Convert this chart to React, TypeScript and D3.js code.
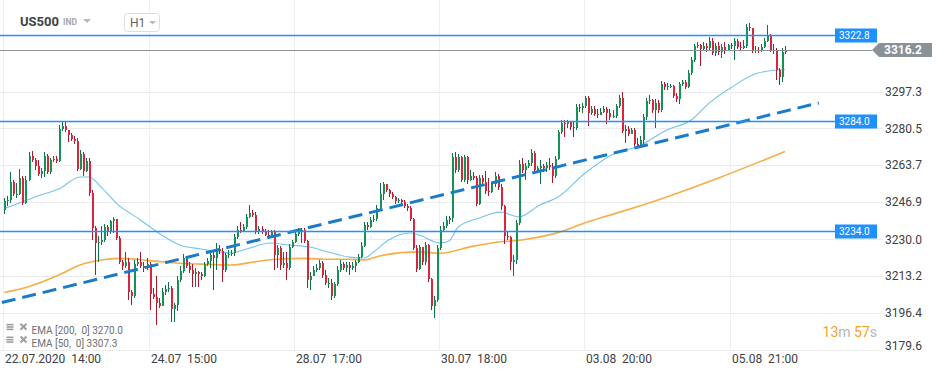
import React from "react";
import * as d3 from "d3";

const W = 945;
const H = 376;

const firstOpen = 3243.3;
const closes = [3247.5,3247.9,3256.1,3250.6,3250.6,3257.9,3246.5,3257.0,3268.0,3266.1,3263.4,3259.7,3261.1,3268.0,3260.6,3266.1,3266.6,3265.7,3280.2,3281.6,3279.8,3277.5,3275.7,3274.8,3262.0,3268.8,3261.1,3265.7,3251.1,3235.1,3228.3,3228.8,3229.7,3235.6,3233.3,3238.3,3239.2,3230.6,3219.7,3217.9,3219.7,3206.0,3204.2,3218.8,3219.7,3217.9,3216.9,3218.8,3205.1,3203.8,3201.0,3199.6,3206.0,3207.4,3207.8,3198.2,3200.1,3211.5,3215.6,3221.5,3217.9,3216.0,3214.2,3215.1,3214.2,3213.3,3218.8,3220.1,3222.8,3221.5,3225.6,3224.7,3216.0,3222.8,3223.3,3223.8,3231.0,3234.2,3233.8,3235.6,3240.2,3242.0,3241.1,3233.3,3234.7,3233.8,3232.0,3231.5,3233.8,3222.8,3226.0,3218.3,3219.2,3217.0,3226.5,3228.8,3232.4,3233.3,3234.2,3229.2,3211.5,3213.3,3216.0,3217.0,3219.2,3213.7,3210.1,3210.1,3204.2,3209.6,3216.0,3218.8,3217.0,3218.3,3217.0,3217.9,3219.7,3221.9,3226.9,3236.5,3235.6,3238.8,3239.2,3244.2,3250.6,3255.2,3252.4,3250.6,3249.3,3247.4,3247.9,3247.0,3245.2,3244.2,3239.2,3226.0,3216.5,3226.5,3219.7,3227.4,3211.9,3199.6,3202.4,3226.0,3234.2,3236.0,3238.8,3239.7,3267.5,3261.6,3267.5,3257.0,3267.5,3257.0,3258.8,3257.9,3246.1,3257.9,3256.1,3252.0,3251.5,3255.2,3258.8,3253.8,3245.2,3231.5,3231.0,3219.7,3220.6,3237.4,3264.3,3261.6,3263.4,3264.7,3269.3,3261.6,3262.5,3263.4,3262.5,3263.8,3262.9,3258.8,3266.6,3278.9,3283.0,3282.5,3283.4,3281.1,3280.7,3290.2,3289.8,3290.7,3294.3,3287.5,3289.3,3287.1,3286.6,3288.0,3289.3,3287.5,3285.7,3286.1,3290.7,3294.3,3279.3,3280.2,3278.0,3279.8,3273.4,3272.5,3275.2,3285.7,3293.0,3293.4,3288.9,3292.1,3288.9,3300.7,3299.3,3299.8,3299.8,3295.2,3293.9,3300.7,3301.6,3299.3,3305.7,3311.6,3318.0,3318.5,3316.7,3318.0,3317.1,3320.3,3314.8,3318.0,3315.3,3317.6,3315.7,3318.5,3318.0,3320.3,3317.6,3317.1,3318.0,3326.7,3326.2,3315.7,3316.2,3315.7,3317.6,3320.3,3323.0,3316.2,3315.7,3307.1,3303.9,3315.3,3316.2];
const highs = [3248.8,3249.7,3260.6,3257.0,3255.6,3262.0,3258.8,3258.8,3269.8,3270.2,3267.0,3266.1,3262.5,3269.8,3268.8,3267.0,3268.0,3268.0,3282.1,3283.9,3283.9,3278.9,3278.4,3277.0,3276.1,3270.7,3269.8,3267.0,3267.0,3252.4,3236.0,3231.5,3236.0,3237.0,3236.5,3238.8,3240.0,3238.8,3231.5,3220.6,3224.2,3221.5,3206.9,3220.6,3221.5,3224.2,3219.7,3221.5,3219.7,3207.8,3213.3,3203.3,3207.8,3209.2,3210.6,3208.7,3201.0,3213.3,3217.9,3223.3,3222.4,3219.7,3218.8,3216.9,3215.6,3215.1,3219.7,3221.5,3224.2,3224.2,3228.3,3227.4,3226.0,3223.8,3225.1,3225.1,3232.4,3236.0,3237.9,3237.0,3241.5,3245.6,3243.3,3242.4,3236.0,3236.0,3234.7,3234.2,3234.2,3234.2,3227.4,3227.0,3224.2,3224.2,3227.9,3229.7,3233.8,3235.1,3235.1,3235.1,3229.7,3215.1,3217.9,3218.8,3220.6,3220.1,3216.0,3212.4,3211.9,3210.6,3217.9,3220.6,3219.7,3219.7,3219.7,3219.7,3220.6,3223.3,3228.8,3237.9,3237.9,3240.2,3241.1,3245.6,3255.6,3256.1,3255.2,3252.9,3251.5,3249.7,3248.8,3248.4,3247.9,3246.1,3245.2,3239.7,3227.4,3227.4,3225.1,3228.8,3227.9,3212.4,3204.2,3227.4,3236.0,3237.9,3240.6,3240.6,3269.3,3269.8,3268.8,3268.0,3268.4,3268.0,3261.6,3260.6,3258.8,3259.3,3259.3,3261.1,3257.9,3256.1,3260.6,3259.7,3255.2,3245.6,3233.3,3231.5,3222.8,3238.8,3266.1,3267.0,3264.7,3266.1,3271.1,3270.2,3263.4,3266.1,3264.3,3265.2,3267.0,3264.7,3268.0,3279.8,3284.3,3284.3,3284.3,3284.0,3283.4,3291.6,3291.6,3292.1,3295.2,3295.2,3290.7,3290.7,3289.3,3289.8,3290.7,3290.2,3289.3,3288.9,3291.6,3295.7,3297.1,3282.1,3281.6,3280.7,3280.7,3276.1,3277.0,3287.1,3294.3,3295.7,3293.9,3293.9,3293.4,3302.1,3301.6,3301.2,3300.7,3300.3,3296.6,3301.6,3302.5,3302.5,3307.1,3313.0,3318.9,3319.8,3318.9,3319.8,3319.4,3322.1,3321.7,3319.4,3319.8,3318.9,3319.8,3318.9,3319.4,3321.7,3321.2,3319.8,3320.8,3328.0,3328.5,3325.3,3318.0,3317.6,3318.9,3321.7,3327.6,3323.5,3318.9,3317.1,3308.0,3317.1,3318.0];
const lows = [3241.5,3245.2,3246.5,3249.7,3248.8,3250.2,3245.6,3246.1,3256.5,3265.2,3261.6,3258.8,3257.9,3258.4,3259.7,3259.7,3265.2,3264.7,3265.2,3279.3,3278.9,3274.3,3274.8,3273.4,3261.1,3261.6,3258.8,3260.6,3249.7,3229.7,3213.7,3219.7,3227.4,3228.8,3231.5,3232.4,3232.9,3229.7,3218.8,3216.0,3216.9,3202.4,3200.1,3203.3,3217.9,3216.9,3215.1,3216.0,3197.8,3202.9,3191.0,3198.7,3200.1,3204.6,3206.0,3192.4,3192.4,3197.3,3210.6,3214.7,3216.9,3214.7,3208.3,3208.3,3208.3,3211.5,3212.8,3217.9,3216.9,3206.9,3216.0,3223.3,3210.6,3215.1,3221.5,3222.4,3222.4,3230.1,3232.9,3233.3,3234.7,3239.7,3240.2,3232.4,3232.4,3232.4,3231.5,3230.6,3231.0,3216.0,3216.9,3216.0,3216.9,3211.5,3216.0,3226.0,3228.3,3231.5,3228.3,3228.3,3207.8,3206.9,3213.7,3215.1,3216.0,3212.4,3209.2,3207.8,3202.4,3203.3,3208.7,3215.1,3216.0,3215.1,3213.7,3216.0,3215.1,3219.2,3221.5,3226.5,3234.2,3235.1,3237.9,3238.3,3243.8,3247.9,3251.5,3249.3,3248.4,3246.1,3246.5,3245.2,3244.2,3242.9,3238.3,3225.1,3215.1,3216.0,3218.3,3218.3,3210.6,3197.8,3194.2,3201.5,3225.1,3233.3,3235.1,3237.0,3237.9,3260.2,3260.6,3256.1,3256.1,3255.2,3256.5,3257.0,3245.2,3245.6,3254.7,3250.6,3249.7,3251.1,3253.8,3252.4,3243.3,3227.9,3229.7,3216.0,3213.3,3218.8,3236.5,3260.2,3257.0,3262.5,3263.4,3260.6,3260.2,3255.2,3260.6,3260.6,3261.6,3255.6,3258.0,3266.1,3278.0,3276.6,3280.7,3279.8,3276.6,3279.8,3288.0,3287.5,3289.8,3281.6,3286.6,3286.1,3285.2,3286.6,3287.5,3282.5,3284.3,3285.2,3285.2,3289.8,3278.4,3273.8,3277.1,3278.0,3272.5,3271.6,3271.6,3273.4,3284.3,3291.6,3287.5,3280.7,3287.5,3288.0,3298.0,3298.0,3298.9,3294.3,3292.5,3291.6,3299.8,3298.4,3298.9,3304.8,3310.7,3317.1,3308.9,3316.2,3315.3,3316.2,3313.9,3313.5,3313.9,3312.6,3314.4,3316.2,3316.7,3311.6,3316.7,3316.2,3316.7,3317.1,3324.8,3314.8,3314.8,3314.8,3315.3,3317.1,3319.8,3315.3,3314.4,3302.5,3300.3,3301.6,3314.4];

// EMA readings: [bar index, value]
const ema50Bars = [0,5,12,18,25,28,32,37,45,52,58,65,75,79,88,94,101,107,114,119,122,127,134,137,144,147,150,157,164,170,177,183,192,202,209,219,227,233,240,249,258];
const ema50Vals = [3244.0,3246.5,3250.2,3252.9,3258.4,3258.4,3253.8,3246.5,3238.8,3232.0,3227.4,3225.6,3223.8,3225.1,3228.3,3227.4,3226.5,3224.2,3221.9,3221.5,3224.2,3229.7,3232.9,3232.0,3228.3,3229.2,3235.6,3239.7,3242.4,3240.2,3245.6,3249.3,3260.2,3269.3,3272.0,3279.8,3284.3,3292.1,3298.9,3305.7,3307.3];
const ema200Bars = [0,8,18,25,32,38,48,58,65,75,83,90,99,107,114,119,124,137,144,155,164,171,182,193,204,216,236,258];
const ema200Vals = [3205.8,3208.4,3213.7,3218.3,3220.6,3221.3,3220.3,3219.1,3218.7,3218.3,3219.8,3220.9,3221.3,3220.9,3220.9,3220.6,3222.4,3224.3,3223.6,3226.9,3228.9,3229.7,3232.7,3238.0,3242.6,3247.9,3257.9,3270.0];

const trendBars = [-0.8, 269.2];
const trendVals = [3201.2, 3292.1];

const levels = [3322.8, 3284.0, 3234.0];
const lastPrice = 3316.2;

const yTicks = [3297.3, 3280.5, 3263.7, 3246.9, 3230.0, 3213.2, 3196.4, 3179.6];
const xTickBars = [0, 48, 96, 144, 192, 240];
const xTickLabels = ["22.07.2020  14:00", "24.07  15:00", "28.07  17:00", "30.07  18:00", "03.08  20:00", "05.08  21:00"];

const legendItems = ["EMA [200,  0] 3270.0", "EMA [50,  0] 3307.3"];

const FONT = "Roboto, 'Noto Sans', sans-serif";

export default function App() {
  const N = closes.length;
  const x = d3.scaleLinear().domain([0, N - 1]).range([4.3, 785]);
  const y = d3.scaleLinear().domain([3179.6, 3297.3]).range([350, 91.5]);

  const candles = closes.map((c, i) => {
    const o = i === 0 ? firstOpen : closes[i - 1];
    const h = Math.max(highs[i], o, c);
    const l = Math.min(lows[i], o, c);
    return { i, o, c, h, l };
  });

  const line = d3
    .line<[number, number]>()
    .x((d) => x(d[0]))
    .y((d) => y(d[1]))
    .curve(d3.curveMonotoneX);

  const ema50Path = line(ema50Bars.map((b, k) => [b, ema50Vals[k]] as [number, number])) || "";
  const ema200Path = line(ema200Bars.map((b, k) => [b, ema200Vals[k]] as [number, number])) || "";

  const green = "#179257";
  const greenDark = "#0f7043";
  const red = "#d9263a";
  const redDark = "#a8182b";
  const levelBlue = "#1e90ff";

  const py = y(lastPrice);

  return (
    <svg
      width={W}
      height={H}
      viewBox={`0 0 ${W} ${H}`}
      style={{ position: "absolute", left: 0, top: 0, display: "block", background: "#fff" }}
      fontFamily={FONT}
    >
      <rect x={0} y={0} width={W} height={H} fill="#ffffff" />

      {/* vertical grid */}
      {xTickBars.map((b, k) => (
        <line key={"vg" + k} x1={Math.round(x(b)) - 0.5} x2={Math.round(x(b)) - 0.5} y1={0} y2={351} stroke="#efefef" strokeWidth={1} />
      ))}
      {/* horizontal grid */}
      {yTicks.map((t, k) => (
        <line key={"hg" + k} x1={0} x2={883} y1={Math.round(y(t)) + 0.5} y2={Math.round(y(t)) + 0.5} stroke="#ececec" strokeWidth={1} />
      ))}

      {/* EMA lines */}
      <path d={ema200Path} fill="none" stroke="#f6a434" strokeWidth={1.6} strokeOpacity={0.9} />
      <path d={ema50Path} fill="none" stroke="#72c4ee" strokeWidth={1.1} />

      {/* candles */}
      <g shapeRendering="crispEdges">
        {candles.map((d) => {
          const cx = Math.round(x(d.i));
          const up = d.c >= d.o;
          const top = y(Math.max(d.o, d.c));
          const bot = y(Math.min(d.o, d.c));
          const bh = Math.max(1, bot - top);
          return (
            <g key={"c" + d.i}>
              <line x1={cx + 0.5} x2={cx + 0.5} y1={y(d.h)} y2={y(d.l)} stroke={up ? greenDark : redDark} strokeWidth={1} />
              <rect x={cx - 0.5} y={top} width={2} height={bh} fill={up ? green : red} />
            </g>
          );
        })}
      </g>

      {/* trend line */}
      <line
        x1={x(trendBars[0])}
        y1={y(trendVals[0])}
        x2={x(trendBars[1])}
        y2={y(trendVals[1])}
        stroke="#1a7cc8"
        strokeWidth={3}
        strokeDasharray="14 7"
      />

      {/* horizontal levels */}
      {levels.map((v, k) => {
        const ly = Math.round(y(v)) + 0.5;
        return (
          <g key={"lv" + k}>
            <line x1={0} x2={835} y1={ly} y2={ly} stroke={levelBlue} strokeWidth={1.5} />
            <rect x={835} y={ly - 7} width={42} height={14} fill={levelBlue} />
            <text x={839} y={ly + 3.6} fontSize={10} fill="#ffffff">
              {v.toFixed(1)}
            </text>
          </g>
        );
      })}

      {/* last price */}
      <line x1={0} x2={872} y1={Math.round(py) + 0.5} y2={Math.round(py) + 0.5} stroke="#8a9298" strokeWidth={1.2} />
      <polygon
        points={`872,${py} 879,${py - 7} 932,${py - 7} 932,${py + 7} 879,${py + 7}`}
        fill="#8a9197"
      />
      <text x={884} y={py + 4.3} fontSize={12} fontWeight={700} fill="#ffffff">
        {lastPrice.toFixed(1)}
      </text>

      {/* y axis labels */}
      {yTicks.map((t, k) => {
        const ty = k === yTicks.length - 1 ? 346 : y(t);
        return (
          <text key={"yl" + k} x={885} y={ty + 4.2} fontSize={12} fill="#3c4043">
            {t.toFixed(1)}
          </text>
        );
      })}

      {/* x axis labels */}
      {xTickBars.map((b, k) => (
        <text key={"xl" + k} x={Math.round(x(b)) + 1} y={362.5} fontSize={12} fill="#3c4043" style={{ whiteSpace: "pre" }}>
          {xTickLabels[k]}
        </text>
      ))}

      {/* header */}
      <text x={20} y={26} fontSize={13} fontWeight={700} fill="#3d4247">US500</text>
      <text x={63} y={25} fontSize={8.5} fontWeight={700} fill="#a3a7ab">IND</text>
      <polygon points="83,19 91,19 87,23" fill="#b5b9bd" />
      <rect x={124.5} y={13.5} width={35} height={18} rx={3} fill="#ffffff" stroke="#dcdfe2" />
      <text x={130} y={26.5} fontSize={12} fill="#5f6368">H1</text>
      <polygon points="149,21 156,21 152.5,24.5" fill="#b8bcc0" />

      {/* legend */}
      {legendItems.map((t, k) => {
        const cy = 327 + k * 12.7;
        return (
          <g key={"lg" + k}>
            <rect x={6.5} y={cy - 3.2} width={7} height={1.6} fill="#9e9e9e" />
            <rect x={6.5} y={cy - 0.8} width={7} height={1.6} fill="#9e9e9e" />
            <rect x={6.5} y={cy + 1.6} width={7} height={1.6} fill="#9e9e9e" />
            <path d={`M20.5 ${cy - 3.2} L26.5 ${cy + 2.8} M26.5 ${cy - 3.2} L20.5 ${cy + 2.8}`} stroke="#9e9e9e" strokeWidth={2} />
            <text x={31.5} y={cy + 7} fontSize={10} fill="#6b6f73" style={{ whiteSpace: "pre" }}>
              {t}
            </text>
          </g>
        );
      })}

      {/* countdown */}
      <text x={877} y={336.5} fontSize={14} textAnchor="end">
        <tspan fill="#f7a21d">13</tspan>
        <tspan fill="#b3b7bb">m</tspan>
        <tspan fill="#f7a21d"> 57</tspan>
        <tspan fill="#b3b7bb">s</tspan>
      </text>
    </svg>
  );
}
